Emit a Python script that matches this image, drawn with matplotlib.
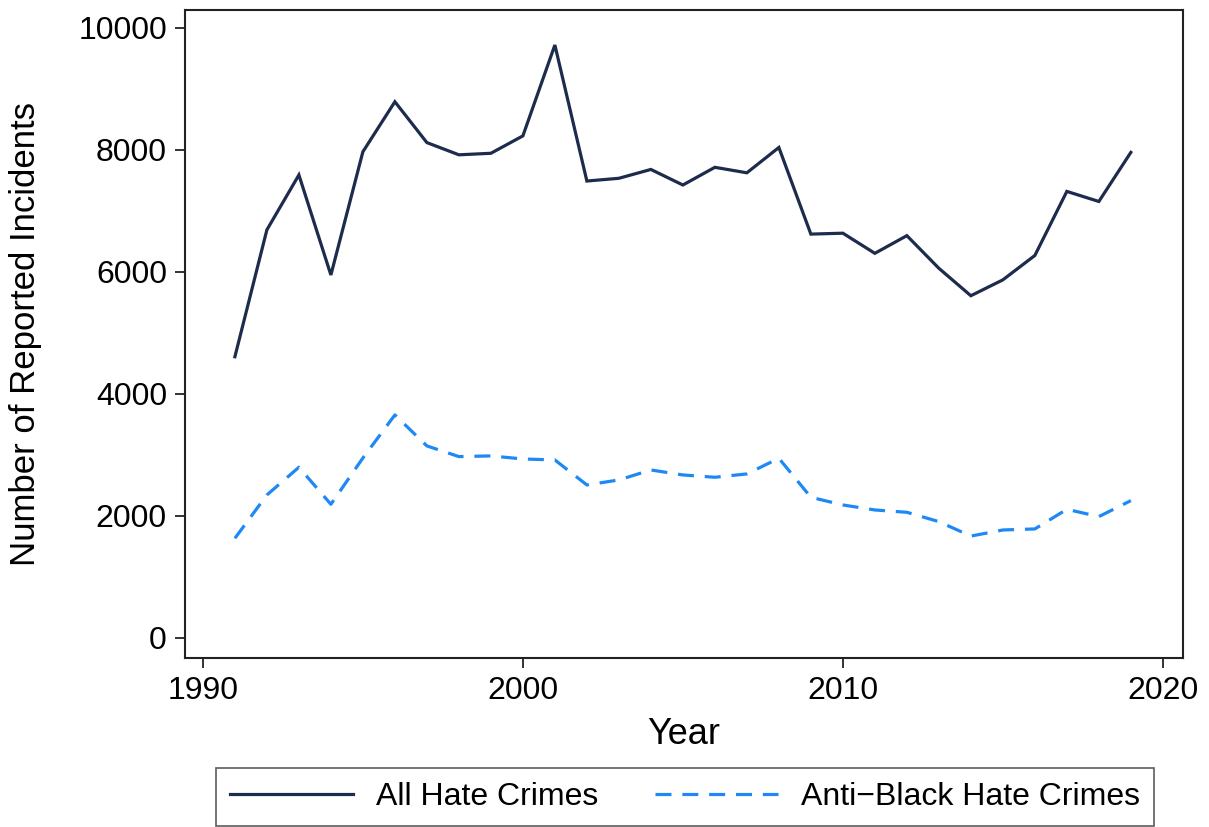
import matplotlib
matplotlib.use("Agg")
import matplotlib.pyplot as plt

# Annual reported hate crime incidents
years = list(range(1991, 2020))
all_hate = [4610, 6690, 7590, 5950, 7970, 8790, 8120, 7920, 7945, 8230,
            9720, 7490, 7535, 7680, 7425, 7715, 7625, 8040, 6620, 6635,
            6305, 6595, 6060, 5610, 5870, 6270, 7320, 7155, 7960]
anti_black = [1634, 2344, 2798, 2191, 2950, 3656, 3148, 2973, 2984, 2934,
              2918, 2508, 2590, 2754, 2672, 2634, 2689, 2945, 2306, 2180,
              2098, 2060, 1907, 1670, 1770, 1787, 2109, 1989, 2251]

x_ticks = [1990, 2000, 2010, 2020]
y_ticks = [0, 2000, 4000, 6000, 8000, 10000]

plt.rcParams['font.family'] = ['Liberation Sans', 'DejaVu Sans']

fig = plt.figure(figsize=(12.09, 8.27), dpi=100)
ax = fig.add_axes([0.153, 0.2044, 0.8255, 0.7836])

navy = '#1d2b4c'
blue = '#1e88f5'
l1, = ax.plot(years, all_hate, color=navy, lw=2.3, label='All Hate Crimes',
              solid_joinstyle='miter')
l2, = ax.plot(years, anti_black, color=blue, lw=2.3, dashes=(5.0, 3.4),
              label='Anti\u2212Black Hate Crimes')

ax.set_xlim(1989.44, 2020.63)
ax.set_ylim(-328, 10295)
ax.set_xticks(x_ticks)
ax.set_yticks(y_ticks)
ax.tick_params(axis='both', direction='out', length=7, width=1.3,
               labelsize=23, pad=6, color='#222222')
for s in ax.spines.values():
    s.set_linewidth(1.5)
    s.set_color('#222222')

ax.set_xlabel('Year', fontsize=26, labelpad=8)
ax.set_ylabel('Number of Reported Incidents', fontsize=25, labelpad=26)

leg = fig.legend(handles=[l1, l2], loc='center', ncol=2,
                 bbox_to_anchor=(0.5666, 0.0363), fontsize=23,
                 frameon=True, fancybox=False, handlelength=3.85,
                 handletextpad=0.7, columnspacing=1.8, borderpad=0.45,
                 borderaxespad=0)
leg.get_frame().set_edgecolor('#333333')
leg.get_frame().set_linewidth(1.2)

fig.savefig('out.png', dpi=100)
